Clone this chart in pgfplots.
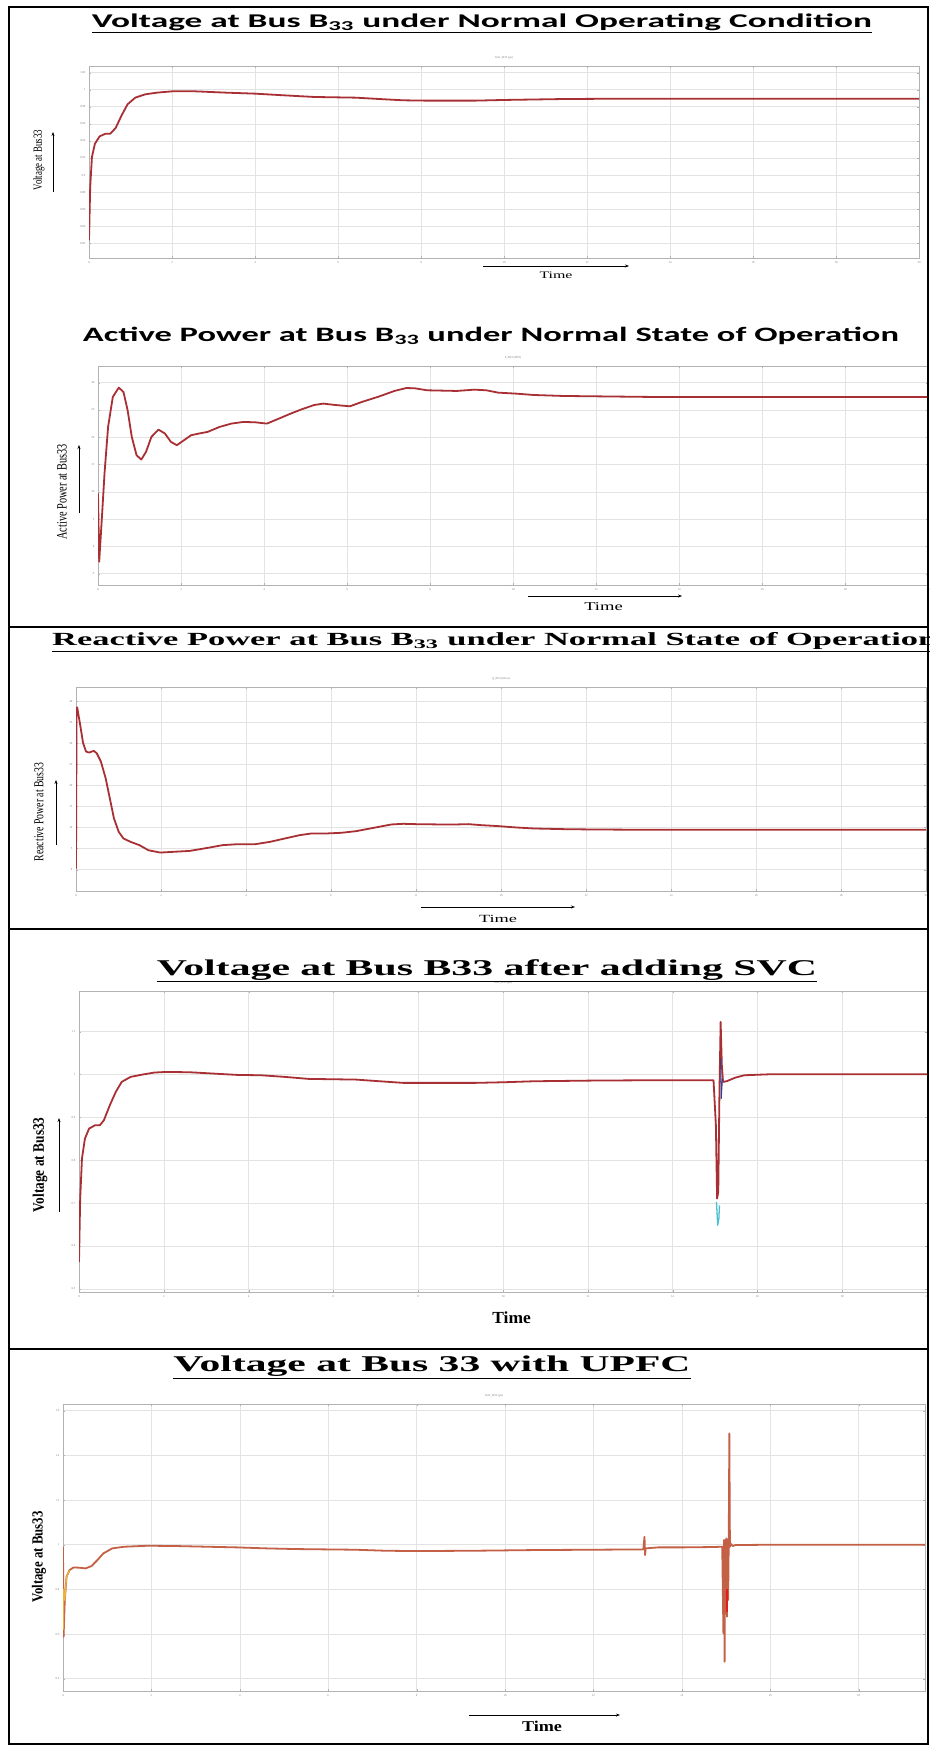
\documentclass[border=0pt]{standalone}
\usepackage{fontspec}
\setmainfont{Liberation Serif}
\newfontfamily\calibri{Carlito}
\usepackage{graphicx}
\usepackage{pgfplots}
\pgfplotsset{compat=1.18}
\usetikzlibrary{arrows.meta}
\definecolor{curve}{RGB}{168,48,52}
\definecolor{curvefive}{RGB}{196,96,70}
\definecolor{yel}{RGB}{236,180,60}
\definecolor{cyanc}{RGB}{80,190,210}
\definecolor{blu}{RGB}{60,60,140}
\definecolor{brightred}{RGB}{225,30,30}
\pgfplotsset{
  panel/.style={scale only axis, anchor=north west,
    axis line style={gray!60}, grid=major,
    major grid style={gray!22, line width=0.6bp},
    tick style={gray!60}, major tick length=2bp,
    ticklabel style={font=\fontsize{3}{3}\selectfont, text=gray},
    /pgf/number format/assume math mode=true,
    xtick={0,2,4,6,8,10,12,14,16,18,20}, xmin=0, xmax=20,
    title style={font=\fontsize{3}{3}\selectfont, text=gray, inner sep=0.5bp},
    every axis plot/.append style={line width=1.8bp, line join=round},
    cycle list={{curve, mark=none}}},
}
\begin{document}
\begin{tikzpicture}
\useasboundingbox (0,0) rectangle (930bp,-1746bp);
\fill[white] (0,0) rectangle (930bp,-1746bp);

% ---------------- Panel 1 ----------------
\begin{axis}[panel, at={(89bp,-66bp)}, width=830bp, height=192bp,
  ymin=0.8028, ymax=1.0278,
  ytick={0.82,0.84,0.86,0.88,0.9,0.92,0.94,0.96,0.98,1,1.02},
  title={Vabc\_B33 (pu)}]
\addplot coordinates {(0,0.8235) (0.029,0.886) (0.071,0.9212) (0.143,0.9368) (0.257,0.9454) (0.4,0.9485) (0.514,0.9485) (0.643,0.9552) (0.786,0.97) (0.929,0.9829) (1.114,0.9907) (1.357,0.9946) (1.643,0.9966) (2.0,0.9981) (2.571,0.9981) (3.286,0.9966) (4.0,0.9954) (4.714,0.9934) (5.429,0.9915) (6.429,0.9907) (7.0,0.9891) (7.571,0.9876) (8.143,0.9872) (9.286,0.9872) (10.0,0.988) (11.43,0.9891) (12.86,0.9895) (20,0.9895)};
\end{axis}

% ---------------- Panel 2 ----------------
\begin{axis}[panel, at={(98bp,-366bp)}, width=830bp, height=219bp,
  ymin=-7.07, ymax=33.05, ytick={-5,0,5,10,15,20,25,30},
  title={P\_B33 (MW)}]
\addplot coordinates {(0,9.70) (0.029,-2.80) (0.1,6.04) (0.157,13.35) (0.243,21.89) (0.357,27.38) (0.5,29.09) (0.614,28.29) (0.714,24.94) (0.814,20.06) (0.929,16.71) (1.043,15.91) (1.157,17.32) (1.286,20.06) (1.457,21.40) (1.614,20.67) (1.757,19.15) (1.9,18.54) (2.071,19.45) (2.243,20.37) (2.429,20.67) (2.643,20.98) (2.929,21.89) (3.214,22.50) (3.5,22.80) (3.786,22.74) (4.071,22.50) (4.357,23.41) (4.643,24.33) (4.929,25.18) (5.214,25.91) (5.429,26.16) (5.714,25.91) (6.071,25.67) (6.357,26.46) (6.786,27.50) (7.143,28.48) (7.429,29.02) (7.643,28.96) (7.929,28.60) (8.286,28.54) (8.643,28.48) (9.071,28.72) (9.357,28.60) (9.643,28.17) (10.071,27.99) (10.5,27.74) (11.214,27.56) (11.929,27.50) (13.357,27.38) (20,27.38)};
\end{axis}

% ---------------- Panel 3 ----------------
\begin{axis}[panel, at={(76bp,-687bp)}, width=850bp, height=204bp,
  ymin=-5.09, ymax=43.42, ytick={0,5,10,15,20,25,30,35,40},
  title={Q\_B33 (Mvar)}]
\addplot coordinates {(0,0.24) (0.014,38.41) (0.028,38.57) (0.098,34.43) (0.167,30.06) (0.237,28.07) (0.307,27.83) (0.419,28.23) (0.488,27.67) (0.586,25.69) (0.698,21.71) (0.796,16.94) (0.893,12.17) (1.005,8.99) (1.117,7.40) (1.284,6.60) (1.493,5.81) (1.703,4.61) (1.982,4.05) (2.261,4.21) (2.680,4.45) (3.099,5.17) (3.447,5.81) (3.796,6.04) (4.215,6.04) (4.564,6.60) (4.913,7.40) (5.262,8.19) (5.541,8.59) (5.890,8.59) (6.239,8.75) (6.588,9.14) (7.006,9.94) (7.425,10.74) (7.704,10.89) (7.983,10.81) (8.541,10.74) (8.960,10.74) (9.239,10.81) (9.518,10.58) (9.937,10.34) (10.356,10.02) (10.775,9.78) (11.472,9.62) (12.170,9.54) (13.566,9.46) (20,9.46)};
\end{axis}

% ---------------- Panel 4 ----------------
\begin{axis}[panel, at={(79bp,-991bp)}, width=848bp, height=301bp,
  ymin=0.4926, ymax=1.195, ytick={0.5,0.6,0.7,0.8,0.9,1,1.1},
  title={Vabc\_B33 (pu)}]
\addplot coordinates {(0,0.5626) (0.028,0.7106) (0.070,0.8039) (0.140,0.8506) (0.238,0.8740) (0.378,0.8817) (0.490,0.8817) (0.587,0.8934) (0.727,0.9284) (0.867,0.9595) (1.007,0.9829) (1.217,0.9946) (1.497,1.0) (1.776,1.0047) (2.056,1.0062) (2.615,1.0054) (3.175,1.0023) (3.734,0.9992) (4.294,0.9984) (4.853,0.9946) (5.413,0.9899) (5.972,0.9891) (6.531,0.9883) (7.091,0.9844) (7.650,0.9806) (8.210,0.9806) (9.329,0.9806) (10.028,0.9821) (10.727,0.9844) (11.427,0.9852) (12.126,0.9860) (13.524,0.9868) (14.965,0.9868) (15.021,0.8817) (15.049,0.7106) (15.077,0.7261) (15.105,0.9595) (15.133,1.1229) (15.161,1.0218) (15.189,0.9829) (15.273,0.9844) (15.483,0.9930) (15.692,0.9984) (16.322,1.0008) (20,1.0008)};
\addplot[cyanc, line width=1.3bp] coordinates {(15.035,0.7028) (15.063,0.6483) (15.091,0.6639) (15.105,0.695)};
\addplot[blu, line width=1bp] coordinates {(15.133,1.0373) (15.147,0.944) (15.175,0.9907)};
\end{axis}

% ---------------- Panel 5 ----------------
\begin{axis}[panel, at={(63bp,-1404bp)}, width=862bp, height=287bp,
  xmax=19.5, ymin=0.345, ymax=1.630, ytick={0.4,0.6,0.8,1,1.2,1.4,1.6},
  title={Vabc\_B33 (pu)},
  cycle list={{curvefive, mark=none}}]
\addplot coordinates {(0,0.9910) (0.0134,0.5881) (0.0403,0.7522) (0.0805,0.8567) (0.1477,0.8866) (0.2416,0.8985) (0.3758,0.8970) (0.5101,0.8940) (0.6443,0.9045) (0.7785,0.9313) (0.9128,0.9612) (1.1141,0.9836) (1.3826,0.9910) (1.9195,0.9955) (2.5906,0.9940) (3.2617,0.9910) (3.9329,0.9881) (4.6040,0.9836) (5.2752,0.9806) (5.9463,0.9791) (6.6174,0.9776) (7.2886,0.9731) (7.9597,0.9716) (9.3020,0.9731) (10.6443,0.9761) (11.9866,0.9776) (13.1275,0.9791) (13.1544,1.0358) (13.1678,0.9537) (13.1812,0.9836) (13.4631,0.9881) (14.0,0.9881) (14.6711,0.9896) (14.9128,0.9910) (14.9396,0.6030) (14.9530,1.0209) (14.9664,0.4761) (14.9799,1.0209) (14.9933,0.6925) (15.0067,1.0284) (15.0201,0.6776) (15.0336,1.0209) (15.0470,0.7522) (15.0604,1.0209) (15.0738,1.4985) (15.0872,0.9910) (15.1141,1.0030) (15.1544,0.9940) (15.2081,0.9985) (16.0134,1.0) (19.5,1.0)};
\addplot[yel, line width=1.3bp] coordinates {(0.0134,0.62) (0.0134,0.80) (0.0403,0.7522) (0.0805,0.8567) (0.1477,0.8866)};
\addplot[brightred, line width=2.4bp] coordinates {(15.0201,0.80) (15.0201,0.70)};
\end{axis}

% ---------------- Frame ----------------
\draw[line width=1.5bp] (9bp,-7bp) rectangle (928bp,-1744bp);
\draw[line width=1.5bp] (9bp,-627bp) -- (928bp,-627bp);
\draw[line width=1.5bp] (9bp,-929bp) -- (928bp,-929bp);
\draw[line width=1.5bp] (9bp,-1349bp) -- (928bp,-1349bp);

% ---------------- Titles ----------------
\node[anchor=base, inner sep=0] at (482bp,-27.3bp) {\resizebox{780bp}{\height}{\calibri\bfseries\fontsize{19.5}{20}\selectfont\underline{Voltage at Bus B\textsubscript{33} under Normal Operating Condition}}};
\node[anchor=base, inner sep=0] at (491bp,-341.7bp) {\resizebox{816bp}{\height}{\calibri\bfseries\fontsize{20.5}{21}\selectfont Active Power at Bus B\textsubscript{33} under Normal State of Operation}};
\node[anchor=base west, inner sep=0] at (52bp,-645.7bp) {\resizebox{885bp}{\height}{\bfseries\fontsize{18.6}{19}\selectfont\underline{Reactive Power at Bus B\textsubscript{33} under Normal State of Operation}}};
\node[anchor=base, inner sep=0] at (487bp,-975bp) {\resizebox{660bp}{\height}{\bfseries\fontsize{22.6}{23}\selectfont\underline{Voltage at Bus B33 after adding SVC}}};
\node[anchor=base, inner sep=0] at (432bp,-1371.7bp) {\resizebox{517bp}{\height}{\bfseries\fontsize{22.6}{23}\selectfont\underline{Voltage at Bus 33 with UPFC}}};

% ---------------- Y labels ----------------
\node[inner sep=0] at (39bp,-160bp) {\scalebox{1.4}[1]{\rotatebox{90}{\fontsize{8.9}{9}\selectfont Voltage at Bus33}}};
\node[inner sep=0] at (62bp,-492bp) {\scalebox{1.4}[1]{\rotatebox{90}{\fontsize{10.3}{10}\selectfont Active Power at Bus33}}};
\node[inner sep=0] at (39bp,-812bp) {\scalebox{1.4}[1]{\rotatebox{90}{\fontsize{9.8}{10}\selectfont Reactive Power at Bus33}}};
\node[inner sep=0] at (40bp,-1165bp) {\scalebox{1.2}[1]{\rotatebox{90}{\bfseries\fontsize{13.4}{13}\selectfont Voltage at Bus33}}};
\node[inner sep=0] at (39bp,-1557bp) {\scalebox{1.2}[1]{\rotatebox{90}{\bfseries\fontsize{12.9}{13}\selectfont Voltage at Bus33}}};

% ---------------- Arrows ----------------
\begin{scope}[line width=0.9bp, -{Stealth[length=4bp,width=3bp]}]
\draw (53bp,-192bp) -- (53bp,-132bp);
\draw (79bp,-513bp) -- (79bp,-445bp);
\draw (56bp,-845bp) -- (56bp,-780bp);
\draw (59bp,-1212bp) -- (59bp,-1118bp);
\draw (483bp,-266bp) -- (629bp,-266bp);
\draw (528bp,-596bp) -- (682bp,-596bp);
\draw (421bp,-907bp) -- (575bp,-907bp);
\draw (469bp,-1715bp) -- (620bp,-1715bp);
\end{scope}

% ---------------- Time labels ----------------
\node[anchor=base, inner sep=0] at (556bp,-278.3bp) {\resizebox{33bp}{\height}{\fontsize{10}{10}\selectfont Time}};
\node[anchor=base, inner sep=0] at (603.5bp,-610.7bp) {\resizebox{38.5bp}{\height}{\fontsize{12}{12}\selectfont Time}};
\node[anchor=base, inner sep=0] at (498bp,-922.3bp) {\resizebox{38bp}{\height}{\fontsize{11}{11}\selectfont Time}};
\node[anchor=base, inner sep=0] at (511.6bp,-1323.3bp) {\resizebox{38.5bp}{\height}{\bfseries\fontsize{17}{17}\selectfont Time}};
\node[anchor=base, inner sep=0] at (542bp,-1731.7bp) {\resizebox{40bp}{\height}{\bfseries\fontsize{15}{15}\selectfont Time}};
\end{tikzpicture}
\end{document}
